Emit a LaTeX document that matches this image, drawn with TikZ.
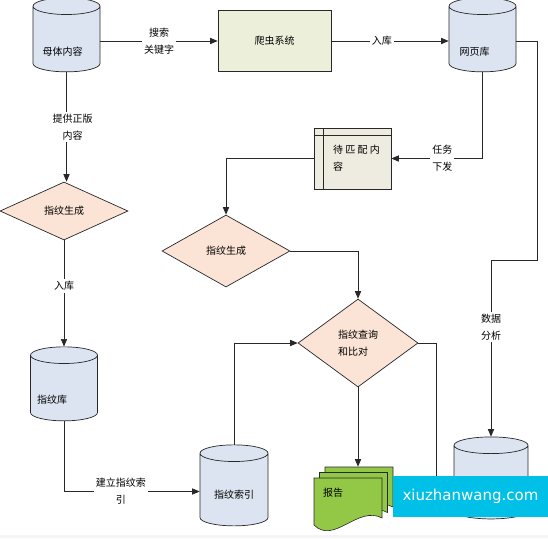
\documentclass[tikz,border=0pt]{standalone}
\usepackage{fontspec}
\setmainfont{Noto Sans CJK SC}
\newfontfamily\wmfont{DejaVu Sans}
\usepackage{tikz}
\usetikzlibrary{shapes,arrows}
\definecolor{linec}{RGB}{40,40,40}
\definecolor{dbfill}{RGB}{219,228,240}
\definecolor{pcfill}{RGB}{236,240,218}
\definecolor{dpfill}{RGB}{238,236,225}
\definecolor{decfill}{RGB}{251,228,213}
\definecolor{docfill}{RGB}{146,200,70}
\definecolor{wmfill}{RGB}{0,192,232}

\begin{document}
\begin{tikzpicture}[x=1pt,y=-1pt,draw=linec,line width=0.7pt,>=triangle 45,
    font=\fontsize{10}{17}\selectfont,
    db/.style={cylinder,shape border rotate=90,shape aspect=2.5,draw=linec,fill=dbfill},
    dec/.style={diamond,draw=linec,fill=decfill,inner sep=0pt},
    lbl/.style={fill=white,align=center,inner sep=2pt}]
\useasboundingbox (0,0) rectangle (548,538);
\fill[gray!8] (0,535) rectangle (548,538);

% report sheets
\foreach \i in {2,1,0}{
    \filldraw[fill=docfill,draw=linec,line width=0.6pt,shift={({5.5*\i},{-5.5*\i})}]
        (314,478) -- (314,525) .. controls (334,545) and (358,505) .. (382,518) -- (382,478) -- cycle;
}

\draw
    node at(66.5,41)[db,minimum width=67,minimum height=74,name=mt,label={[shift={(-4,11)}]center:母体内容}]{}
    node at(274.5,41)[draw,fill=pcfill,minimum width=113,minimum height=61,name=pc]{爬虫系统}
    node at(482.5,41)[db,minimum width=67,minimum height=74,name=wy,label={[shift={(-8,11)}]center:网页库}]{}
    node at(352.5,158.5)[draw,fill=dpfill,minimum width=77,minimum height=61,name=dp,
        path picture={\draw ([xshift=9pt]path picture bounding box.north west) -- ([xshift=9pt]path picture bounding box.south west);
                      \draw ([yshift=-7pt]path picture bounding box.north west) -- ([yshift=-7pt]path picture bounding box.north east);},
        label={[align=left,shift={(4,0)}]center:待 匹 配 内\\容}]{}

    node at(64,211)[dec,minimum width=128,minimum height=58,name=zs1]{指纹生成}
    node at(226,251)[dec,minimum width=128,minimum height=72,name=zs2]{指纹生成}
    node at(358,343)[dec,minimum width=120,minimum height=88,align=left,name=cx]{指纹查询\\和比对}

    node at(64,390)[db,minimum width=67,minimum height=74,name=zwk,label={[shift={(-12,10)}]center:指纹库}]{}
    node at(234,491.5)[db,minimum width=68,minimum height=81,name=zsy,label={[shift={(0,3)}]center:指纹索引}]{}
    node at(491,484)[db,minimum width=74,minimum height=82,name=sj]{}
    node at(353.5,499)[minimum width=79,minimum height=64,name=rep,label={[shift={(-20.5,-6)}]center:报告}]{}
;
\coordinate (hid) at (436,495);

    \draw[->](mt) -- node[lbl]{搜索\\关键字} (pc);
    \draw[->](pc) -- node[lbl,pos=0.43]{入库} (wy);
    \draw[->](wy.south) |- node[lbl,pos=0.72]{任务\\下发} (dp.east);
    \draw[->](dp.west) -| (zs2.north);
    \draw[->](zs2.east) -| (cx.north);
    \draw[->](cx.south) -- (cx.south |- rep.north);
    \draw(cx.east) -| (hid);
    \draw[->](wy.east) -| ++(21,219) -| node[lbl,pos=0.69]{数据\\分析} (sj.north);

    \draw[->](mt.south) -- node[lbl,xshift=6]{提供正版\\内容} (mt.south |- zs1.north);
    \draw[->](zs1.south) -- node[lbl,pos=0.43]{入库} (zs1.south |- zwk.north);
    \draw[->](zwk.south) |- node[lbl,pos=0.71]{建立指纹索\\引} (zsy.west);
    \draw[->](zsy.north) |- (cx.west);

\node at(470.5,496.5)[fill=wmfill,minimum width=155,minimum height=41,text=white,
    font=\wmfont\fontsize{15}{15}\selectfont,name=wm]{xiuzhanwang.com};
\end{tikzpicture}
\end{document}
